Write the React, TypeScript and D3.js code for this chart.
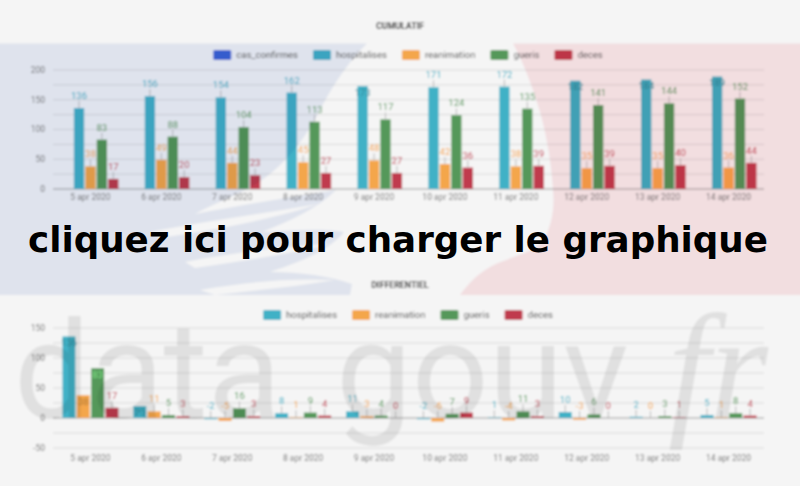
import React from 'react';
import * as d3 from 'd3';

const dates = ['5 apr 2020', '6 apr 2020', '7 apr 2020', '8 apr 2020', '9 apr 2020', '10 apr 2020', '11 apr 2020', '12 apr 2020', '13 apr 2020', '14 apr 2020'];

const cumulSeries = ['cas_confirmes', 'hospitalises', 'reanimation', 'gueris', 'deces'];
const diffSeries = ['hospitalises', 'reanimation', 'gueris', 'deces'];

const casConfirmesCumul: (number | null)[] = [null, null, null, null, null, null, null, null, null, null];
const hospitalisesCumul = [136, 156, 154, 162, 173, 171, 172, 182, 184, 189];
const reanimationCumul = [38, 49, 44, 45, 48, 42, 38, 35, 35, 36];
const guerisCumul = [83, 88, 104, 113, 117, 124, 135, 141, 144, 152];
const decesCumul = [17, 20, 23, 27, 27, 36, 39, 39, 40, 44];

const hospitalisesDiff = [136, 20, -2, 8, 11, -2, 1, 10, 2, 5];
const reanimationDiff = [38, 11, -5, 1, 3, -6, -4, -3, 0, 1];
const guerisDiff = [83, 5, 16, 9, 4, 7, 11, 6, 3, 8];
const decesDiff = [17, 3, 3, 4, 0, 9, 3, 0, 1, 4];

const cumulTicks = [0, 50, 100, 150, 200];
const diffTicks = [-50, 0, 50, 100, 150];

const colors: Record<string, string> = {
  cas_confirmes: '#3a62d4',
  hospitalises: '#40b1c6',
  reanimation: '#f4a64b',
  gueris: '#55985a',
  deces: '#c03b4d',
};
const insideTone: Record<string, number> = {
  cas_confirmes: 1,
  hospitalises: -0.7,
  reanimation: -0.9,
  gueris: 1.1,
  deces: 1.2,
};

const FONT = 'Roboto, "Liberation Sans", sans-serif';
const BG = '#f5f5f5';

let ctx: CanvasRenderingContext2D | null = null;
function measure(text: string, font: string) {
  if (!ctx) ctx = document.createElement('canvas').getContext('2d');
  if (!ctx) return text.length * 5;
  ctx.font = font;
  return ctx.measureText(text).width;
}

type ChartProps = {
  title: string;
  titleY: number;
  series: string[];
  data: Record<string, (number | null)[]>;
  yDomain: [number, number];
  yRange: [number, number];
  ticks: number[];
  legendY: number;
  xLabelY: number;
  inside: (v: number, h: number, top: number) => boolean;
};

function BarChart(p: ChartProps) {
  const x0 = d3.scaleBand<string>().domain(dates).range([55, 764]).paddingInner(0.21).paddingOuter(0.105);
  const x1 = d3.scaleBand<string>().domain(p.series).range([0, x0.bandwidth()]).paddingInner(0.1);
  const y = d3.scaleLinear().domain(p.yDomain).range(p.yRange);
  const grid = d3.range(p.yDomain[0], p.yDomain[1] + 1, 25);
  const y0 = y(0);

  const lfont = `9.5px ${FONT}`;
  const items = p.series.map((s) => ({ s, w: measure(s, lfont) }));
  const total = items.reduce((a, it) => a + 18 + 5 + it.w, 0) + 15 * (items.length - 1);
  let lx = 408 - total / 2;
  const legend = items.map((it) => {
    const g = (
      <g key={it.s}>
        <rect x={lx} y={p.legendY - 5} width={18} height={10} rx={1.5} fill={colors[it.s]} />
        <text x={lx + 23} y={p.legendY + 3.4} fontSize={9.5} fill="#555" fontFamily={FONT}>{it.s}</text>
      </g>
    );
    lx += 18 + 5 + it.w + 15;
    return g;
  });

  return (
    <g>
      <text x={400} y={p.titleY} textAnchor="middle" fontSize={8.8} fontWeight="bold" fill="#3a3a3a" fontFamily={FONT}>{p.title}</text>
      {legend}
      {grid.map((g) => (
        <line key={g} x1={53} x2={764} y1={y(g)} y2={y(g)} stroke={g === 0 ? '#9a9a9a' : '#d9d9d9'} strokeWidth={1} />
      ))}
      {p.ticks.map((t) => (
        <text key={t} x={45} y={y(t)} dy="0.35em" textAnchor="end" fontSize={8.5} fill="#777" fontFamily={FONT}>{t}</text>
      ))}
      {dates.map((d) => (
        <text key={d} x={(x0(d) || 0) + x0.bandwidth() / 2} y={p.xLabelY} textAnchor="middle" fontSize={8.5} fill="#777" fontFamily={FONT}>{d}</text>
      ))}
      {p.series.map((s) => (
        <g key={s}>
          {dates.map((d, j) => {
            const v = p.data[s][j];
            if (v === null || v === undefined) return null;
            const bx = (x0(d) || 0) + (x1(s) || 0);
            const bw = x1.bandwidth();
            const yv = y(v);
            const top = Math.min(yv, y0);
            const h = Math.abs(yv - y0);
            const inside = p.inside(v, h, top);
            const cx = bx + bw / 2;
            const c = d3.color(colors[s])!;
            const tone = insideTone[s];
            const ic = (tone < 0 ? c.darker(-tone) : c.brighter(tone)).formatHex();
            return (
              <g key={d}>
                {h > 0 && <rect x={bx} y={top} width={bw} height={h} fill={colors[s]} />}
                {inside ? (
                  <text x={cx} y={top + 9.5} textAnchor="middle" fontSize={9.5} fill={ic} fontFamily={FONT}>{v}</text>
                ) : (
                  <g>
                    <line x1={cx} x2={cx} y1={top} y2={top - 7} stroke="#aaa" strokeWidth={0.8} />
                    <text x={cx} y={top - 9} textAnchor="middle" fontSize={9.5} fill={colors[s]} fontFamily={FONT}>{v}</text>
                  </g>
                )}
              </g>
            );
          })}
        </g>
      ))}
    </g>
  );
}

const bluePath =
  'M-20,43.5 L367,43.5 C352,58 336,80 322,106 C308,134 290,160 262,180 C240,195 215,203 195,214 C235,206 285,198 336,190 C318,208 292,220 262,232 C295,230 322,228 344,232 C330,250 300,262 270,272 C300,272 330,276 352,284 L350,295 L-20,295 Z ' +
  'M150,232 C200,222 260,214 318,204 C290,214 240,226 160,238 Z ' +
  'M185,262 C235,252 290,246 330,244 C300,252 250,260 195,268 Z ' +
  'M200,290 C245,282 290,278 335,280 C300,286 260,290 215,295 Z';

const pinkPath =
  'M513,43.5 L820,43.5 L820,295 L460,295 C468,284 478,272 498,263 C520,254 538,250 544,240 C551,226 555,210 553,190 C551,160 546,130 537,102 C530,80 522,60 513,43.5 Z';

export default function App() {
  const cumulData: Record<string, (number | null)[]> = {
    cas_confirmes: casConfirmesCumul,
    hospitalises: hospitalisesCumul,
    reanimation: reanimationCumul,
    gueris: guerisCumul,
    deces: decesCumul,
  };
  const diffData: Record<string, (number | null)[]> = {
    hospitalises: hospitalisesDiff,
    reanimation: reanimationDiff,
    gueris: guerisDiff,
    deces: decesDiff,
  };
  return (
    <svg width={800} height={486} viewBox="0 0 800 486" style={{ position: 'absolute', left: 0, top: 0, display: 'block' }}>
      <defs>
        <filter id="soft" filterUnits="userSpaceOnUse" x={-40} y={-40} width={880} height={566}>
          <feGaussianBlur stdDeviation={1.3} />
        </filter>
      </defs>
      <g filter="url(#soft)">
        <rect x={-40} y={-40} width={880} height={566} fill={BG} />
        <BarChart
          title="CUMULATIF"
          titleY={29}
          series={cumulSeries}
          data={cumulData}
          yDomain={[0, 200]}
          yRange={[189, 70]}
          ticks={cumulTicks}
          legendY={55}
          xLabelY={200}
          inside={(v, h, top) => top < 70 + 16.3}
        />
        <BarChart
          title="DIFFERENTIEL"
          titleY={288}
          series={diffSeries}
          data={diffData}
          yDomain={[-50, 150]}
          yRange={[448, 328]}
          ticks={diffTicks}
          legendY={315}
          xLabelY={461}
          inside={(v, h) => v > 0 && h >= 11}
        />
        <g style={{ mixBlendMode: 'multiply' }}>
          <path d={bluePath} fill="#e9edf7" fillRule="evenodd" />
          <path d={pinkPath} fill="#fce7ea" />
          <g fill="#eaeaea" fontFamily='Roboto, "Liberation Sans", sans-serif'>
            <text x={14} y={418} fontSize={135}>data</text>
            <text x={336} y={418} fontSize={135}>gouv</text>
          </g>
          <text x={668} y={418} fontSize={150} fontStyle="italic" fill="#eaeaea" fontFamily='"Liberation Serif", "DejaVu Serif", serif'>fr</text>
        </g>
      </g>
      <text x={398} y={252} textAnchor="middle" fontSize={35.7} fontWeight="bold" fill="#000" fontFamily='"DejaVu Sans", Verdana, sans-serif'>cliquez ici pour charger le graphique</text>
    </svg>
  );
}
